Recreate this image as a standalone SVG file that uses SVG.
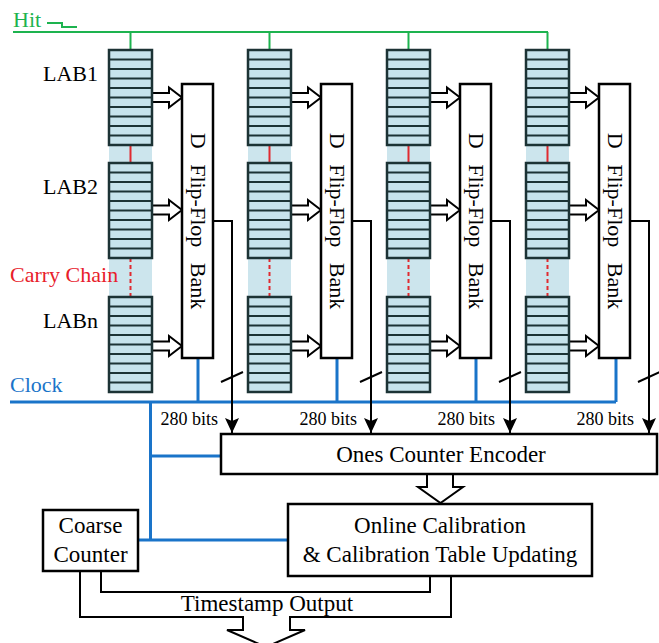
<svg xmlns="http://www.w3.org/2000/svg" xmlns:xlink="http://www.w3.org/1999/xlink" width="659" height="643" viewBox="0 0 659 643">
<style>
text{font-family:"Liberation Serif","Times New Roman",serif;fill:#000}
.lbl{font-size:22px}
.big{font-size:23px}
.bits{font-size:18px}
.box{fill:#fff;stroke:#000;stroke-width:2.5}
.blk{fill:none;stroke:#000;stroke-width:2}
.blue{fill:none;stroke:#1a74c9;stroke-width:3}
.green{fill:none;stroke:#1db34f;stroke-width:2}
.red{stroke:#e02a30;stroke-width:2}
.barrow{fill:#fff;stroke:#000;stroke-width:2}
.labcell{fill:#c7e3ec;stroke:#1c3335;stroke-width:2.5}
.row{stroke:#1c3335;stroke-width:2}
.colbg{fill:#cce5ed}
</style>
<defs>
<g id="lab">
<rect class="labcell" x="0" y="0" width="43" height="95"/>
<path class="row" d="M0 9.5H43M0 19H43M0 28.5H43M0 38H43M0 47.5H43M0 57H43M0 66.5H43M0 76H43M0 85.5H43"/>
</g>
<path id="barr" class="barrow" d="M0 -4.5H17V-10L30 0L17 10V4.5H0"/>
<marker id="ah" viewBox="0 0 15 14" refX="15" refY="7" markerWidth="15" markerHeight="14" markerUnits="userSpaceOnUse" orient="auto">
<path d="M0 0L15 7L0 14L3 7Z" fill="#000"/>
</marker>
</defs>

<!-- Hit signal -->
<text x="13" y="27" class="lbl" style="fill:#1db34f">Hit</text>
<path class="green" stroke-width="2.5" d="M47 23H62V27H77"/>

<!-- column backgrounds and carry chains -->
<g id="carry">
<rect class="colbg" x="109" y="145" width="43" height="152"/>
<rect class="colbg" x="248" y="145" width="43" height="152"/>
<rect class="colbg" x="387" y="145" width="43" height="152"/>
<rect class="colbg" x="526" y="145" width="43" height="152"/>
<path class="red" d="M130.5 145V163M269.5 145V163M408.5 145V163M547.5 145V163"/>
<path class="red" stroke-dasharray="4 3" d="M130.5 258V297M269.5 258V297M408.5 258V297M547.5 258V297"/>
</g>

<!-- labels -->
<text x="43" y="81" class="lbl">LAB1</text>
<text x="43" y="194" class="lbl">LAB2</text>
<text x="10" y="282" class="lbl" style="fill:#e8202a">Carry Chain</text>
<text x="43" y="328" class="lbl">LABn</text>
<text x="10" y="392" class="lbl" style="fill:#1a74c9">Clock</text>

<!-- connectors -->
<g id="connectors">
<path class="green" d="M13 32H548M130.5 32V50M269.5 32V50M408.5 32V50M547.5 32V50"/>
<path class="blue" d="M10 402H616M198 358V402M337 358V402M476 358V402M616 358V402M150.5 402V540M150.5 456H221M138 540H288"/>
<g class="blk" marker-end="url(#ah)">
<path d="M213 221H232V433"/>
<path d="M352 221H371V433"/>
<path d="M491 221H510V433"/>
<path d="M630 221H649V433"/>
</g>
<path class="blk" d="M221 382L243 372M360 382L382 372M499 382L521 372M638 382L660 372"/>
<use xlink:href="#barr" x="152" y="97.5"/>
<use xlink:href="#barr" x="152" y="210"/>
<use xlink:href="#barr" x="152" y="346"/>
<use xlink:href="#barr" x="291" y="97.5"/>
<use xlink:href="#barr" x="291" y="210"/>
<use xlink:href="#barr" x="291" y="346"/>
<use xlink:href="#barr" x="430" y="97.5"/>
<use xlink:href="#barr" x="430" y="210"/>
<use xlink:href="#barr" x="430" y="346"/>
<use xlink:href="#barr" x="569" y="97.5"/>
<use xlink:href="#barr" x="569" y="210"/>
<use xlink:href="#barr" x="569" y="346"/>
<path class="barrow" d="M427 474V487H418L440.5 503L463 487H453V474"/>
<path class="blk" d="M101 571V592H430V576"/>
<path class="blk" d="M80 571V617H243V630H227L266 647L305 630H290V617H451V576"/>
</g>

<!-- LAB nodes -->
<g id="lab1-1"><use xlink:href="#lab" x="109" y="50"/></g>
<g id="lab1-2"><use xlink:href="#lab" x="109" y="163"/></g>
<g id="lab1-n"><use xlink:href="#lab" x="109" y="297"/></g>
<g id="lab2-1"><use xlink:href="#lab" x="248" y="50"/></g>
<g id="lab2-2"><use xlink:href="#lab" x="248" y="163"/></g>
<g id="lab2-n"><use xlink:href="#lab" x="248" y="297"/></g>
<g id="lab3-1"><use xlink:href="#lab" x="387" y="50"/></g>
<g id="lab3-2"><use xlink:href="#lab" x="387" y="163"/></g>
<g id="lab3-n"><use xlink:href="#lab" x="387" y="297"/></g>
<g id="lab4-1"><use xlink:href="#lab" x="526" y="50"/></g>
<g id="lab4-2"><use xlink:href="#lab" x="526" y="163"/></g>
<g id="lab4-n"><use xlink:href="#lab" x="526" y="297"/></g>

<!-- DFF banks -->
<g id="dff1"><rect class="box" x="182" y="84" width="31" height="274"/>
<text class="lbl" transform="translate(190.5 221) rotate(90)" text-anchor="middle" style="word-spacing:10px">D Flip-Flop Bank</text></g>
<g id="dff2"><rect class="box" x="321" y="84" width="31" height="274"/>
<text class="lbl" transform="translate(329.5 221) rotate(90)" text-anchor="middle" style="word-spacing:10px">D Flip-Flop Bank</text></g>
<g id="dff3"><rect class="box" x="460" y="84" width="31" height="274"/>
<text class="lbl" transform="translate(468.5 221) rotate(90)" text-anchor="middle" style="word-spacing:10px">D Flip-Flop Bank</text></g>
<g id="dff4"><rect class="box" x="599" y="84" width="31" height="274"/>
<text class="lbl" transform="translate(607.5 221) rotate(90)" text-anchor="middle" style="word-spacing:10px">D Flip-Flop Bank</text></g>

<!-- bit labels -->
<text class="bits" x="218" y="425" text-anchor="end">280 bits</text>
<text class="bits" x="357" y="425" text-anchor="end">280 bits</text>
<text class="bits" x="495" y="425" text-anchor="end">280 bits</text>
<text class="bits" x="634" y="425" text-anchor="end">280 bits</text>

<g id="encoder"><rect class="box" x="221" y="434" width="436" height="40"/>
<text class="big" x="441" y="462" text-anchor="middle">Ones Counter Encoder</text></g>

<g id="calibration"><rect class="box" x="288" y="504" width="304" height="72"/>
<text class="big" x="440" y="533" text-anchor="middle">Online Calibration</text>
<text class="big" x="440" y="562" text-anchor="middle">&amp; Calibration Table Updating</text></g>

<g id="coarse"><rect class="box" x="43" y="510" width="95" height="61"/>
<text class="big" x="90.5" y="533" text-anchor="middle">Coarse</text>
<text class="big" x="90.5" y="562" text-anchor="middle">Counter</text></g>

<text class="big" x="267" y="611" text-anchor="middle">Timestamp Output</text>
</svg>
